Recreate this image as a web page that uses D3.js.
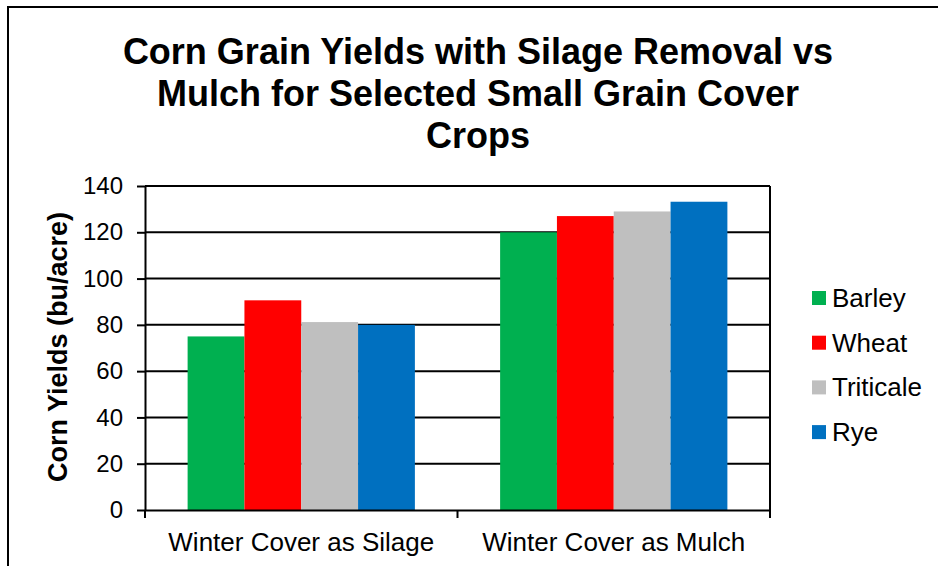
<!DOCTYPE html>
<html>
<head>
<meta charset="utf-8">
<script src="https://cdn.jsdelivr.net/npm/d3@7"></script>
<style>
  body { margin: 0; background: #fff; }
  svg { display: block; font-family: Arial, "Liberation Sans", sans-serif; }
</style>
</head>
<body>
<svg id="chart" width="938" height="566"></svg>
<script>
const categories = ["Winter Cover as Silage", "Winter Cover as Mulch"];
const seriesNames = ["Barley", "Wheat", "Triticale", "Rye"];
const seriesColors = ["#00B050", "#FF0000", "#BFBFBF", "#0070C0"];
const barley = [75, 120];
const wheat = [90.6, 127];
const triticale = [81.2, 129];
const rye = [80, 133.2];
const yTicks = [0, 20, 40, 60, 80, 100, 120, 140];
const titleLines = ["Corn Grain Yields with Silage Removal vs", "Mulch for Selected Small Grain Cover", "Crops"];

const values = [barley, wheat, triticale, rye];

const svg = d3.select("#chart");
const plot = { left: 145, right: 770, top: 186, bottom: 510 };

// outer chart frame
svg.append("rect")
  .attr("x", 8).attr("y", 7)
  .attr("width", 960).attr("height", 600)
  .attr("fill", "#fff").attr("stroke", "#000").attr("stroke-width", 2);

// title
svg.append("text")
  .attr("text-anchor", "middle")
  .attr("font-size", 36).attr("font-weight", "bold")
  .selectAll("tspan")
  .data(titleLines)
  .join("tspan")
    .attr("x", 478)
    .attr("y", (d, i) => 64 + i * 42)
    .text(d => d);

const x0 = d3.scaleBand().domain(categories).range([plot.left, plot.right]).padding(0);
const x1 = d3.scaleBand().domain(seriesNames).range([0, x0.bandwidth()])
  .paddingInner(0).paddingOuter(0.75);
const y = d3.scaleLinear().domain([0, 140]).range([plot.bottom, plot.top]);

// gridlines
svg.append("g")
  .selectAll("line")
  .data(yTicks.filter(d => d > 0))
  .join("line")
    .attr("x1", plot.left).attr("x2", plot.right)
    .attr("y1", d => y(d)).attr("y2", d => y(d))
    .attr("stroke", "#000").attr("stroke-width", 2);

// right plot border
svg.append("line")
  .attr("x1", plot.right).attr("x2", plot.right)
  .attr("y1", plot.top).attr("y2", plot.bottom)
  .attr("stroke", "#000").attr("stroke-width", 2);

// bars
const groups = svg.append("g")
  .selectAll("g")
  .data(categories)
  .join("g")
    .attr("transform", d => `translate(${x0(d)},0)`);

groups.selectAll("rect")
  .data((c, ci) => seriesNames.map((s, si) => ({ s, si, v: values[si][ci] })))
  .join("rect")
    .attr("x", d => x1(d.s))
    .attr("width", x1.bandwidth())
    .attr("y", d => y(d.v))
    .attr("height", d => y(0) - y(d.v))
    .attr("fill", d => seriesColors[d.si]);

// y axis
const yAxis = svg.append("g")
  .attr("transform", `translate(${plot.left},0)`)
  .call(d3.axisLeft(y).tickValues(yTicks).tickSize(8).tickPadding(14).tickSizeOuter(0));
yAxis.select(".domain").attr("stroke-width", 2);
yAxis.selectAll(".tick line").attr("stroke-width", 2);
yAxis.selectAll("text").attr("font-size", 24).attr("font-family", null).attr("fill", "#000");

// x axis
const xAxis = svg.append("g")
  .attr("transform", `translate(0,${plot.bottom})`)
  .call(d3.axisBottom(x0).tickSize(0).tickPadding(23));
xAxis.select(".domain").attr("stroke-width", 2);
xAxis.selectAll("text").attr("font-size", 26).attr("font-family", null).attr("fill", "#000");

// category separator ticks
svg.append("g")
  .selectAll("line")
  .data([plot.left, ...categories.map(c => x0(c) + x0.bandwidth())])
  .join("line")
    .attr("x1", d => d).attr("x2", d => d)
    .attr("y1", plot.bottom).attr("y2", plot.bottom + 8)
    .attr("stroke", "#000").attr("stroke-width", 2);

// y axis title
svg.append("text")
  .attr("transform", "translate(67,347) rotate(-90)")
  .attr("text-anchor", "middle")
  .attr("font-size", 27).attr("font-weight", "bold")
  .text("Corn Yields (bu/acre)");

// legend
const legend = svg.append("g")
  .selectAll("g")
  .data(seriesNames)
  .join("g")
    .attr("transform", (d, i) => `translate(812,${298 + i * 44.7})`);
legend.append("rect")
  .attr("x", 0).attr("y", -7).attr("width", 14).attr("height", 14)
  .attr("fill", (d, i) => seriesColors[i]);
legend.append("text")
  .attr("x", 20).attr("y", 9)
  .attr("font-size", 26)
  .text(d => d);
</script>
</body>
</html>
